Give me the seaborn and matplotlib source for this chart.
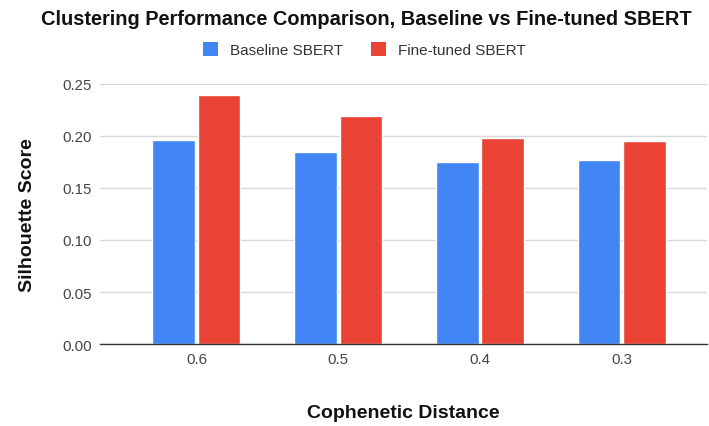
import matplotlib
matplotlib.use("Agg")
import matplotlib.pyplot as plt
import seaborn as sns
import pandas as pd
from matplotlib.patches import Patch

distances = ["0.6", "0.5", "0.4", "0.3"]
baseline = [0.196, 0.185, 0.175, 0.177]
finetuned = [0.239, 0.219, 0.198, 0.195]
series = ["Baseline SBERT", "Fine-tuned SBERT"]
colors = ["#4285F4", "#EA4335"]

df = pd.DataFrame({
    "Cophenetic Distance": distances * 2,
    "Silhouette Score": baseline + finetuned,
    "Model": [series[0]] * len(distances) + [series[1]] * len(distances),
})

sns.set_style("white")
plt.rcParams["font.family"] = ["Liberation Sans", "DejaVu Sans"]

fig = plt.figure(figsize=(7.09, 4.27), dpi=100)
ax = fig.add_axes([0.141, 0.192, 0.856, 0.609])
sns.barplot(data=df, x="Cophenetic Distance", y="Silhouette Score", hue="Model",
            palette=colors, width=0.64, gap=0.06, ax=ax, legend=False,
            order=distances, hue_order=series, saturation=1)

ticks = [0, 0.05, 0.10, 0.15, 0.20, 0.25]
ax.set_ylim(0, 0.25)
ax.set_yticks(ticks)
ax.set_yticklabels([f"{v:.2f}" for v in ticks])
ax.set_xlim(-0.68, 3.60)
ax.yaxis.grid(True, color="#d9d9d9", linewidth=1)
ax.set_axisbelow(True)
for s in ["top", "right", "left"]:
    ax.spines[s].set_visible(False)
ax.spines["bottom"].set_color("#333333")
ax.spines["bottom"].set_linewidth(1)
ax.tick_params(axis="both", length=0, labelsize=10.8, labelcolor="#444444")
ax.tick_params(axis="x", pad=6)
ax.tick_params(axis="y", pad=6)
ax.set_xlabel("Cophenetic Distance", fontsize=14, fontweight="bold", labelpad=27, color="#111111")
ax.set_ylabel("Silhouette Score", fontsize=14, fontweight="bold", labelpad=19, color="#111111")

fig.suptitle("Clustering Performance Comparison, Baseline vs Fine-tuned SBERT",
             x=0.516, y=0.976, fontsize=14.4, fontweight="bold", color="#111111")
handles = [Patch(facecolor=c, edgecolor="none") for c in colors]
fig.legend(handles, series, loc="center", bbox_to_anchor=(0.514, 0.882), ncol=2,
           frameon=False, fontsize=11, handlelength=1.0, handleheight=1.0,
           columnspacing=1.8, handletextpad=0.8, labelcolor="#333333")

fig.savefig("out.png", dpi=100)
